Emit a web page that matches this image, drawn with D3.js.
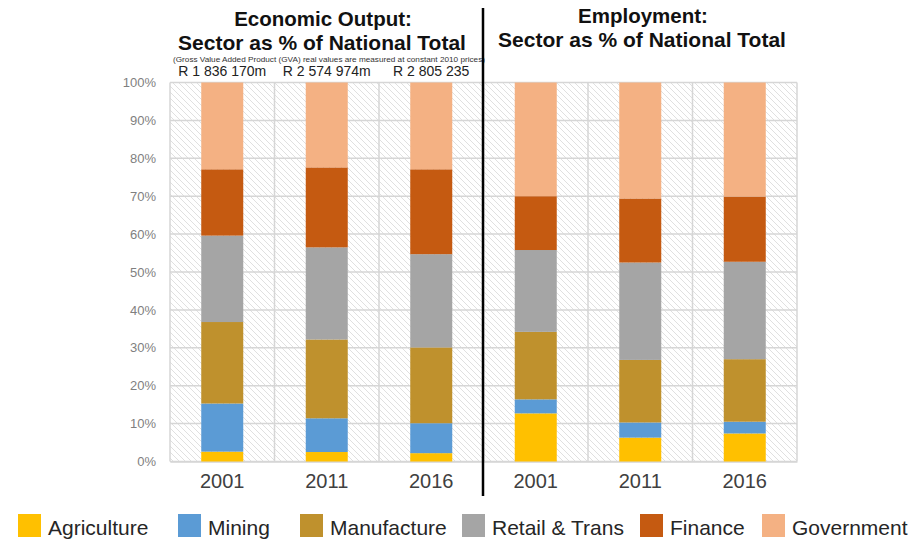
<!DOCTYPE html>
<html>
<head>
<meta charset="utf-8">
<script src="https://cdn.jsdelivr.net/npm/d3@7"></script>
<style>
  html, body { margin: 0; padding: 0; background: #fff; }
  svg { display: block; font-family: "Liberation Sans", Arial, sans-serif; }
</style>
</head>
<body>
<svg id="chart" width="923" height="539"></svg>
<script>
// Six bars: three years of economic output, then three years of employment
const panels = ["Economic Output", "Economic Output", "Economic Output", "Employment", "Employment", "Employment"];
const yearLabels = ["2001", "2011", "2016", "2001", "2011", "2016"];
const gvaTotals = ["R 1 836 170m", "R 2 574 974m", "R 2 805 235"];

const sectors = ["Agriculture", "Mining", "Manufacture", "Retail & Trans", "Finance", "Government"];
const sectorColors = ["#FFC000", "#5B9BD5", "#BF912D", "#A5A5A5", "#C55A11", "#F4B183"];

// Share of national total (%) per sector, same order as yearLabels
const agriculture  = [2.6, 2.5, 2.2, 12.7, 6.3, 7.4];
const mining       = [12.7, 8.9, 7.9, 3.7, 4.0, 3.1];
const manufacture  = [21.5, 20.8, 20.0, 17.8, 16.5, 16.5];
const retailTrans  = [22.8, 24.3, 24.6, 21.6, 25.7, 25.7];
const finance      = [17.5, 21.1, 22.4, 14.2, 16.9, 17.2];
const government   = [22.9, 22.4, 22.9, 30.0, 30.6, 30.1];

const yTicks = [0, 10, 20, 30, 40, 50, 60, 70, 80, 90, 100];

const seriesValues = [agriculture, mining, manufacture, retailTrans, finance, government];
const rows = yearLabels.map((y, i) => {
  const r = { idx: i };
  sectors.forEach((s, k) => { r[s] = seriesValues[k][i]; });
  return r;
});

const svg = d3.select("#chart");
const plot = { left: 170, right: 797, top: 82.5, bottom: 461.5 };

const x = d3.scaleBand()
  .domain(d3.range(yearLabels.length))
  .range([plot.left, plot.right])
  .paddingInner(0).paddingOuter(0);
const barW = 42;

const y = d3.scaleLinear().domain([0, 100]).range([plot.bottom, plot.top]);

// Diagonal hatch behind the bars
const defs = svg.append("defs");
const pat = defs.append("pattern")
  .attr("id", "hatch")
  .attr("patternUnits", "userSpaceOnUse")
  .attr("width", 6).attr("height", 6);
pat.append("rect").attr("width", 6).attr("height", 6).attr("fill", "#ffffff");
pat.append("path")
  .attr("d", "M-1,-1 L7,7 M-1,5 L1,7 M5,-1 L7,1")
  .attr("stroke", "#e0e0e0").attr("stroke-width", 1);

svg.append("rect")
  .attr("x", plot.left).attr("y", plot.top)
  .attr("width", plot.right - plot.left).attr("height", plot.bottom - plot.top)
  .attr("fill", "url(#hatch)");

// Gridlines
const grid = svg.append("g").attr("stroke", "#d6d6d6").attr("stroke-width", 1.5);
grid.selectAll("line.h").data(yTicks).join("line")
  .attr("x1", plot.left).attr("x2", plot.right)
  .attr("y1", d => y(d)).attr("y2", d => y(d));
grid.selectAll("line.v").data(d3.range(yearLabels.length + 1)).join("line")
  .attr("x1", d => plot.left + d * x.step()).attr("x2", d => plot.left + d * x.step())
  .attr("y1", plot.top).attr("y2", plot.bottom);

// Y axis
const yAxis = svg.append("g")
  .attr("transform", `translate(${plot.left},0)`)
  .call(d3.axisLeft(y).tickValues(yTicks).tickSize(0).tickPadding(14).tickFormat(d => d + "%"));
yAxis.select(".domain").remove();
yAxis.selectAll("text")
  .attr("font-family", "Liberation Sans, Arial, sans-serif")
  .attr("font-size", 13).attr("fill", "#7f7f7f");

// X axis (year labels)
const xAxis = svg.append("g")
  .attr("transform", `translate(0,${plot.bottom})`)
  .call(d3.axisBottom(x).tickSize(0).tickPadding(12).tickFormat(i => yearLabels[i]));
xAxis.select(".domain").attr("stroke", "#d6d6d6").attr("stroke-width", 1.5);
xAxis.selectAll("text")
  .attr("font-family", "Liberation Sans, Arial, sans-serif")
  .attr("font-size", 20).attr("fill", "#404040");

// Stacked bars
const stack = d3.stack().keys(sectors);
const layers = stack(rows);
svg.append("g").selectAll("g").data(layers).join("g")
  .attr("fill", (d, k) => sectorColors[k])
  .selectAll("rect").data(d => d).join("rect")
  .attr("x", d => x(d.data.idx) + (x.bandwidth() - barW) / 2)
  .attr("width", barW)
  .attr("y", d => y(d[1]))
  .attr("height", d => y(d[0]) - y(d[1]));

// GVA totals above the economic output bars
svg.append("g").selectAll("text").data(gvaTotals).join("text")
  .attr("x", (d, i) => x(i) + x.bandwidth() / 2)
  .attr("y", 76)
  .attr("text-anchor", "middle")
  .attr("font-size", 14).attr("fill", "#222")
  .text(d => d);

// Panel titles
const titles = svg.append("g").attr("font-weight", "bold").attr("fill", "#111").attr("text-anchor", "middle");
titles.append("text").attr("x", 323).attr("y", 26).attr("font-size", 20.5).text("Economic Output:");
titles.append("text").attr("x", 322).attr("y", 50).attr("font-size", 21).text("Sector as % of National Total");
titles.append("text").attr("x", 643).attr("y", 23).attr("font-size", 20.5).text("Employment:");
titles.append("text").attr("x", 642).attr("y", 47).attr("font-size", 21).text("Sector as % of National Total");

svg.append("text")
  .attr("x", 329).attr("y", 62)
  .attr("text-anchor", "middle")
  .attr("font-size", 7.3).attr("fill", "#333")
  .attr("textLength", 312).attr("lengthAdjust", "spacingAndGlyphs")
  .text("(Gross Value Added Product (GVA) real values are measured at constant 2010 prices)");

// Divider between the two panels
svg.append("line")
  .attr("x1", 483).attr("x2", 483).attr("y1", 8).attr("y2", 496)
  .attr("stroke", "#000").attr("stroke-width", 2.5);

// Legend
const legendX = [18, 178, 300, 462, 640, 762];
const legend = svg.append("g").selectAll("g").data(sectors).join("g")
  .attr("transform", (d, i) => `translate(${legendX[i]},514)`);
legend.append("rect").attr("width", 23).attr("height", 23).attr("fill", (d, i) => sectorColors[i]);
legend.append("text").attr("x", 30).attr("y", 21)
  .attr("font-size", 21).attr("fill", "#262626")
  .text(d => d);
</script>
</body>
</html>
